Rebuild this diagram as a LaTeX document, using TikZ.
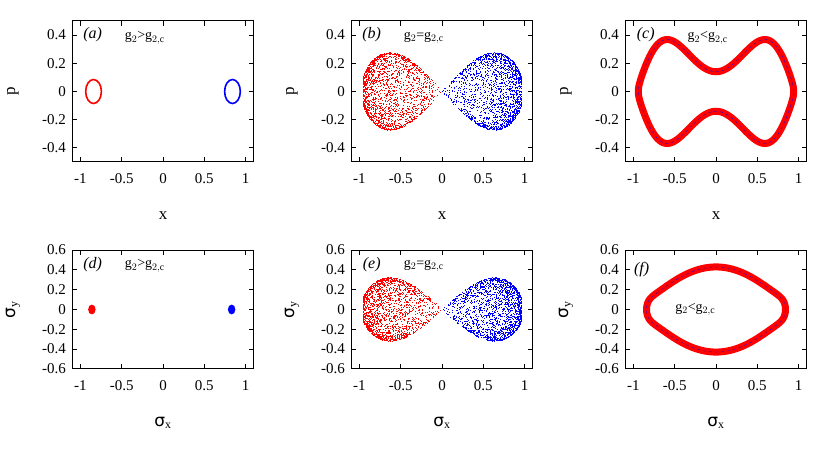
\documentclass[tikz,border=0pt]{standalone}
\usepackage{fontspec}
\setmainfont{Liberation Serif}
\newfontfamily\greekfont{DejaVu Sans}
\begin{document}
\begin{tikzpicture}[x=1pt,y=1pt]
      % Colour definitions
      \definecolor{lobered}{RGB}{255, 0, 0}
      \definecolor{lobeblue}{RGB}{0, 0, 255}
      \tikzset{
          frame/.style={line width=1pt},
          tick/.style={line width=0.9pt},
          ticklabel/.style={font=\fontsize{15}{15}\selectfont, inner sep=1pt},
          axislabel/.style={font=\fontsize{17}{17}\selectfont},
          panellabel/.style={font=\fontsize{16}{16}\selectfont\itshape},
          caselabel/.style={font=\fontsize{14}{14}\selectfont}
      }
      \useasboundingbox (0,0) rectangle (830,456);
      \pgfmathsetseed{4242}

      % Frame with ticks: #1 = half height, #2 = y tick list, #3 = x label, #4 = y label
      \newcommand{\drawframe}[4]{
          \draw[frame] (-1.1,-#1) rectangle (1.1,#1);
          \foreach \xt in {-1,-0.5,0,0.5,1} {
              \draw[tick] (\xt,-#1) -- ++(0,5pt);
              \draw[tick] (\xt,#1) -- ++(0,-5pt);
              \node[ticklabel, anchor=north] at ([yshift=-10pt]\xt,-#1) {\xt};
          }
          \foreach \yt in {#2} {
              \draw[tick] (-1.1,\yt) -- ++(5pt,0);
              \draw[tick] (1.1,\yt) -- ++(-5pt,0);
              \node[ticklabel, anchor=east] at ([xshift=-5pt]-1.1,\yt) {\yt};
          }
          \node[axislabel] (xlab) at ([yshift=-54pt]0,-#1) {#3};
          \node[axislabel, rotate=90] (ylab) at ([xshift=-59pt]-1.1,0) {#4};
      }

      % Scattered lobes: #1 = half width, #2 = colour, #3 = side (+1/-1)
      \newcommand{\drawlobe}[3]{
          \foreach \i in {1,...,1900} {
              \pgfmathsetmacro{\t}{0.005+0.975*sqrt(rnd)}
              \pgfmathsetmacro{\h}{#1*sqrt(\t*sin(180*\t))*sin(90*(2*rnd-1))}
              \fill[#2] ({#3*0.98*\t},\h) rectangle ++(0.5pt,0.5pt);
          }
      }

      % (a)
      \begin{scope}[shift={(163,364.5)}, x=82.7pt, y=141pt]
          \drawframe{0.5}{-0.4,-0.2,0,0.2,0.4}{x}{p}
          \draw[lobered, line width=1.6pt] (-0.84,0) ellipse (0.095 and 0.085);
          \draw[lobeblue, line width=1.6pt] (0.84,0) ellipse (0.095 and 0.085);
          \node[panellabel] (la) at (-0.85,0.4) {(a)};
          \node[caselabel] (ca) at (-0.22,0.38) {g$_2$>g$_{2,\mathrm{c}}$};
      \end{scope}

      % (b)
      \begin{scope}[shift={(442,364.5)}, x=82.7pt, y=141pt]
          \drawlobe{0.36}{lobered}{-1}
          \drawlobe{0.36}{lobeblue}{1}
          \drawframe{0.5}{-0.4,-0.2,0,0.2,0.4}{x}{p}
          \node[panellabel] (lb) at (-0.85,0.4) {(b)};
          \node[caselabel] (cb) at (-0.22,0.38) {g$_2$=g$_{2,\mathrm{c}}$};
      \end{scope}

      % (c)
      \begin{scope}[shift={(716,364.5)}, x=82.7pt, y=141pt]
          \draw[lobered, line width=7pt, domain=0:360, samples=180, smooth]
              plot ({0.94*cos(\x)}, {sin(\x)*(0.14+1.3*cos(\x)^2-1.15*cos(\x)^4)});
          \draw[lobeblue, line width=0.3pt, dashed, domain=0:360, samples=180, smooth]
              plot ({0.94*cos(\x)}, {sin(\x)*(0.14+1.3*cos(\x)^2-1.15*cos(\x)^4)});
          \drawframe{0.5}{-0.4,-0.2,0,0.2,0.4}{x}{p}
          \node[panellabel] (lc) at (-0.85,0.4) {(c)};
          \node[caselabel] (cc) at (-0.1,0.38) {g$_2$<g$_{2,\mathrm{c}}$};
      \end{scope}

      % (d)
      \begin{scope}[shift={(163,146.5)}, x=82.7pt, y=99pt]
          \drawframe{0.6}{-0.6,-0.4,-0.2,0,0.2,0.4,0.6}{{\greekfont σ}$_{\mathrm{x}}$}{{\greekfont σ}$_{\mathrm{y}}$}
          \fill[lobered] (-0.86,0) ellipse (0.045 and 0.05);
          \fill[lobeblue] (0.83,0) ellipse (0.045 and 0.05);
          \node[panellabel] (ld) at (-0.85,0.45) {(d)};
          \node[caselabel] (cd) at (-0.22,0.44) {g$_2$>g$_{2,\mathrm{c}}$};
      \end{scope}

      % (e)
      \begin{scope}[shift={(442,146.5)}, x=82.7pt, y=99pt]
          \drawlobe{0.42}{lobered}{-1}
          \drawlobe{0.42}{lobeblue}{1}
          \drawframe{0.6}{-0.6,-0.4,-0.2,0,0.2,0.4,0.6}{{\greekfont σ}$_{\mathrm{x}}$}{{\greekfont σ}$_{\mathrm{y}}$}
          \node[panellabel] (le) at (-0.85,0.45) {(e)};
          \node[caselabel] (ce) at (-0.22,0.44) {g$_2$=g$_{2,\mathrm{c}}$};
      \end{scope}

      % (f)
      \begin{scope}[shift={(716,146.5)}, x=82.7pt, y=99pt]
          \draw[lobered, line width=7pt, domain=0:360, samples=180, smooth]
              plot ({0.84*cos(\x)}, {0.43*sin(\x)*(1-0.45*cos(\x)^2)+0.15*sin(\x)*cos(\x)^10});
          \draw[lobeblue, line width=0.3pt, dashed, domain=0:360, samples=180, smooth]
              plot ({0.84*cos(\x)}, {0.43*sin(\x)*(1-0.45*cos(\x)^2)+0.15*sin(\x)*cos(\x)^10});
          \drawframe{0.6}{-0.6,-0.4,-0.2,0,0.2,0.4,0.6}{{\greekfont σ}$_{\mathrm{x}}$}{{\greekfont σ}$_{\mathrm{y}}$}
          \node[panellabel] (lf) at (-0.9,0.4) {(f)};
          \node[caselabel] (cf) at (-0.25,0) {g$_2$<g$_{2,\mathrm{c}}$};
      \end{scope}
\end{tikzpicture}
\end{document}
